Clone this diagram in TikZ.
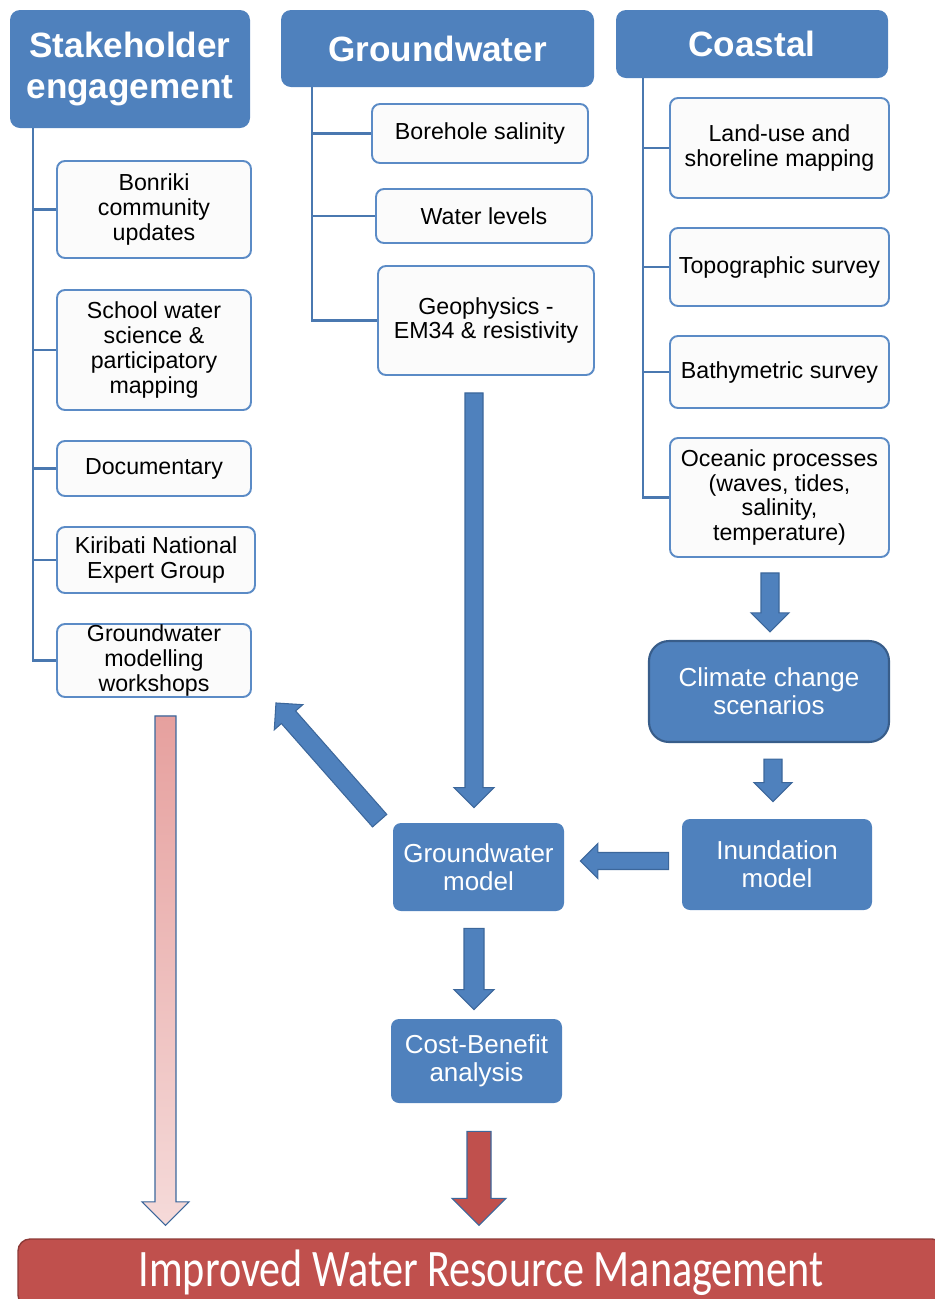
\documentclass[tikz,border=0pt]{standalone}
\usepackage{fontspec}
\setmainfont{Liberation Sans}
\newfontfamily\barfont{Carlito}
\usetikzlibrary{calc}

\definecolor{hdrblue}{HTML}{4F81BD}
\definecolor{itemline}{HTML}{5B8BC6}
\definecolor{itemfill}{HTML}{FBFBFB}
\definecolor{linkblue}{HTML}{4A78B0}
\definecolor{arrowline}{HTML}{3C679B}
\definecolor{climline}{HTML}{385D8A}
\definecolor{barred}{HTML}{C0504D}
\definecolor{barline}{HTML}{8C3A37}
\definecolor{pinktop}{HTML}{E6A09E}
\definecolor{pinkbot}{HTML}{F5DAD9}

\tikzset{
  sz/.style 2 args={minimum width=#1*0.02cm, minimum height=#2*0.02cm},
  header/.style={rounded corners=0.2cm, fill=hdrblue, text=white, align=center, inner sep=0pt,
    font=\fontsize{20}{21}\selectfont\bfseries},
  item/.style={rounded corners=0.16cm, draw=itemline, line width=1.1pt, fill=itemfill, align=center,
    inner sep=0pt, font=\fontsize{13.2}{14.2}\selectfont},
  model/.style={rounded corners=0.16cm, fill=hdrblue, text=white, align=center, inner sep=0pt,
    font=\fontsize{14.8}{15.9}\selectfont},
  branch/.style={draw=linkblue, line width=1.3pt},
  barrow/.style={fill=hdrblue, draw=arrowline, line width=0.6pt, line join=miter},
}

% block arrow: [style] from, to, half shaft width, half head width (px)
\newcommand{\blockarrow}[5][]{%
  \pgfmathsetmacro\shaftw{#4*0.569}%
  \pgfmathsetmacro\headw{#5*0.569}%
  \draw[barrow,#1] let \p1=(#2), \p2=(#3), \p3=($(\p2)!\headw pt!(\p1)$) in
    ($(\p1)!\shaftw pt!90:(\p2)$) -- ($(\p3)!\shaftw pt!-90:(\p1)$) -- ($(\p3)!\headw pt!-90:(\p1)$)
    -- (\p2) -- ($(\p3)!\headw pt!90:(\p1)$) -- ($(\p3)!\shaftw pt!90:(\p1)$)
    -- ($(\p1)!\shaftw pt!-90:(\p2)$) -- cycle;}

\begin{document}
\begin{tikzpicture}[x=0.02cm, y=-0.02cm]
    \useasboundingbox (0,0) rectangle (934,1299);

    % Column headers
    \node[header, sz={240}{118}] (sh) at (130,69) {Stakeholder\\[2pt]engagement};
    \node[header, sz={313}{77}] (gw) at (437.5,48.5) {Groundwater};
    \node[header, sz={272}{68}] (co) at (752,44) {Coastal};

    % Stakeholder items
    \node[item, sz={194}{97}] (bon) at (154,209.5) {Bonriki\\community\\updates};
    \node[item, sz={194}{120}] (sch) at (154,350) {School water\\science \&\\participatory\\mapping};
    \node[item, sz={194}{55}] (doc) at (154,468.5) {Documentary};
    \node[item, sz={198}{66}] (kng) at (156,560) {Kiribati National\\Expert Group};
    \node[item, sz={194}{73}] (gmw) at (154,660.5) {Groundwater\\modelling\\workshops};

    % Groundwater items
    \node[item, sz={216}{59}] (bor) at (480,133.5) {Borehole salinity};
    \node[item, sz={216}{54}] (wl) at (484,216) {Water levels};
    \node[item, sz={216}{109}] (geo) at (486,320.5) {Geophysics -\\EM34 \& resistivity};

    % Coastal items
    \node[item, sz={219}{100}] (lu) at (779.5,148) {Land-use and\\shoreline mapping};
    \node[item, sz={219}{78}] (topo) at (779.5,267) {Topographic survey};
    \node[item, sz={219}{72}] (bath) at (779.5,372) {Bathymetric survey};
    \node[item, sz={219}{119}] (oce) at (779.5,497.5) {Oceanic processes\\(waves, tides,\\salinity,\\temperature)};

    % Models
    \node[model, sz={240}{101}, rounded corners=0.4cm, draw=climline, line width=1.2pt] (ccs) at (769,691.5) {Climate change\\scenarios};
    \node[model, sz={190}{91}] (inu) at (777,864.5) {Inundation\\model};
    \node[model, sz={171}{88}] (gwm) at (478.5,867) {Groundwater\\model};
    \node[model, sz={171}{84}] (cba) at (476.5,1061) {Cost-Benefit\\analysis};

    % Outcome bar
    \node[rounded corners=0.24cm, fill=barred, draw=barline, line width=0.8pt, text=white, inner sep=0pt,
      sz={926}{68}] (iwrm) at (481,1273)
      {\barfont\fontsize{30}{32}\selectfont\scalebox{0.8}[1]{Improved Water Resource Management}};

    % Tree branches
    \coordinate (shroot) at ($(sh.south west)+(23,0)$);
    \coordinate (gwroot) at ($(gw.south west)+(31,0)$);
    \coordinate (coroot) at ($(co.south west)+(27,0)$);
    \draw[branch] (shroot) |- (gmw.west);
    \foreach \b in {bon,sch,doc,kng}
        \draw[branch] (\b.west) -- (\b.west -| shroot);
    \draw[branch] (gwroot) |- (geo.west);
    \foreach \b in {bor,wl}
        \draw[branch] (\b.west) -- (\b.west -| gwroot);
    \draw[branch] (coroot) |- (oce.west);
    \foreach \b in {lu,topo,bath}
        \draw[branch] (\b.west) -- (\b.west -| coroot);

    % Block arrows
    \blockarrow{$(geo.south)+(-12,17)$}{$(gwm.north)+(-4.5,-15)$}{9}{20}
    \blockarrow{$(oce.south)+(-9.5,15)$}{$(ccs.north)+(1,-8)$}{9}{19}
    \blockarrow{$(ccs.south)+(4,16)$}{$(inu.north)+(-4,-17)$}{9}{19}
    \blockarrow{$(inu.west)+(-13,-3.5)$}{$(gwm.east)+(16,-6)$}{8.5}{17.5}
    \blockarrow{$(gwm.north west)+(-13,-2)$}{$(gmw.south east)+(24,5)$}{9.5}{19}
    \blockarrow{$(gwm.south)+(-4.5,17)$}{$(cba.north)+(-2.5,-9)$}{10}{20}
    \blockarrow[fill=barred]{$(cba.south)+(2.5,28)$}{$(cba.south |- iwrm.north)+(2.5,-13)$}{12}{27}
    \blockarrow[top color=pinktop, bottom color=pinkbot]{$(gmw.south)+(11.5,18)$}{$(gmw.south |- iwrm.north)+(11.5,-13)$}{10.5}{23.5}
\end{tikzpicture}
\end{document}
